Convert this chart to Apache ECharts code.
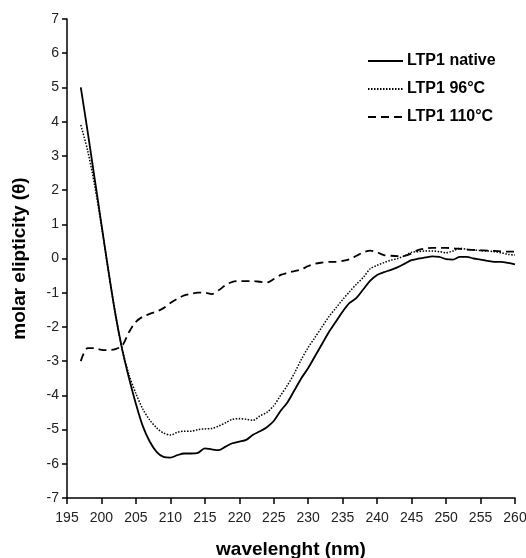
<!DOCTYPE html>
<html>
<head>
<meta charset="utf-8">
<script src="https://cdn.jsdelivr.net/npm/echarts@6/dist/echarts.min.js"></script>
<style>html,body{margin:0;padding:0;background:#fff}#c{width:526px;height:558px}</style>
</head>
<body>
<div id="c"></div>
<script>
var wavelengths = [197,198,199,200,201,202,203,204,205,206,207,208,209,210,211,212,213,214,215,216,217,218,219,220,221,222,223,224,225,226,227,228,229,230,231,232,233,234,235,236,237,238,239,240,241,242,243,244,245,246,247,248,249,250,251,252,253,254,255,256,257,258,259,260];
var native = [5.0,3.7,2.35,1.0,-0.35,-1.6,-2.65,-3.5,-4.25,-4.9,-5.35,-5.65,-5.8,-5.82,-5.75,-5.7,-5.7,-5.68,-5.55,-5.58,-5.6,-5.5,-5.4,-5.35,-5.3,-5.15,-5.05,-4.93,-4.75,-4.45,-4.2,-3.85,-3.5,-3.2,-2.85,-2.5,-2.15,-1.85,-1.55,-1.3,-1.15,-0.9,-0.65,-0.48,-0.4,-0.33,-0.25,-0.15,-0.05,0.0,0.03,0.06,0.05,-0.02,-0.03,0.05,0.05,0.0,-0.03,-0.07,-0.1,-0.1,-0.13,-0.17];
var heated96 = [3.9,3.15,2.15,0.95,-0.35,-1.6,-2.65,-3.4,-3.95,-4.4,-4.72,-4.95,-5.1,-5.16,-5.08,-5.05,-5.05,-5.0,-4.98,-4.97,-4.9,-4.8,-4.7,-4.68,-4.7,-4.73,-4.6,-4.5,-4.3,-4.0,-3.7,-3.35,-2.95,-2.6,-2.3,-2.0,-1.7,-1.45,-1.2,-0.97,-0.75,-0.55,-0.3,-0.2,-0.12,-0.05,0.0,0.08,0.18,0.2,0.22,0.22,0.2,0.17,0.22,0.3,0.27,0.25,0.23,0.22,0.2,0.17,0.12,0.1];
var heated110 = [-3.0,-2.62,-2.62,-2.67,-2.68,-2.65,-2.55,-2.15,-1.85,-1.7,-1.62,-1.55,-1.45,-1.3,-1.18,-1.08,-1.03,-1.0,-1.0,-1.04,-0.93,-0.78,-0.68,-0.66,-0.66,-0.66,-0.68,-0.7,-0.6,-0.48,-0.42,-0.37,-0.32,-0.22,-0.15,-0.12,-0.1,-0.1,-0.07,-0.02,0.08,0.18,0.23,0.18,0.1,0.08,0.07,0.08,0.15,0.25,0.29,0.31,0.31,0.31,0.3,0.28,0.26,0.25,0.24,0.23,0.22,0.21,0.2,0.2];
var seriesNames = ['LTP1 native','LTP1 96°C','LTP1 110°C'];

function pairs(v){ return wavelengths.map(function(w,i){ return [w, v[i]]; }); }

var chart = echarts.init(document.getElementById('c'), null, {renderer:'canvas'});
var FF = 'Liberation Sans, Arial, sans-serif';
var axisFont = {fontFamily:FF, fontSize:14, color:'#222'};
chart.setOption({
  animation:false,
  backgroundColor:'#fff',
  grid:{left:67, right:11, top:19, bottom:60, containLabel:false, outerBoundsMode:'none'},
  legend:{
    orient:'vertical', left:362, top:48, itemWidth:35, itemHeight:10, itemGap:12,
    itemStyle:{opacity:0},
    textStyle:{fontFamily:FF, fontSize:16, fontWeight:'bold', color:'#000', padding:[0,0,0,-1]},
    data:seriesNames
  },
  xAxis:{
    type:'value', min:195, max:260, interval:5,
    name:'wavelenght (nm)', nameLocation:'middle', nameGap:42,
    nameTextStyle:{fontFamily:FF, fontSize:19, fontWeight:'bold', color:'#000'},
    axisLine:{onZero:false, lineStyle:{color:'#000', width:1.5}},
    axisTick:{length:6, lineStyle:{color:'#000', width:1.5}},
    axisLabel:Object.assign({margin:13}, axisFont),
    splitLine:{show:false}
  },
  yAxis:{
    type:'value', min:-7, max:7, interval:1,
    name:'molar elipticity (θ)', nameLocation:'middle', nameGap:38,
    nameTextStyle:{fontFamily:FF, fontSize:19, fontWeight:'bold', color:'#000'},
    axisLine:{show:true, lineStyle:{color:'#000', width:1.5}},
    axisTick:{show:true, length:5, lineStyle:{color:'#000', width:1.5}},
    axisLabel:Object.assign({margin:8}, axisFont),
    splitLine:{show:false}
  },
  series:[
    {name:seriesNames[0], type:'line', data:pairs(native), symbol:'none', smooth:0.3,
     lineStyle:{color:'#000', width:1.8, type:'solid'}, itemStyle:{color:'#000'}},
    {name:seriesNames[1], type:'line', data:pairs(heated96), symbol:'none', smooth:0.3,
     lineStyle:{color:'#000', width:1.5, type:[1.5,1.5]}, itemStyle:{color:'#000'}},
    {name:seriesNames[2], type:'line', data:pairs(heated110), symbol:'none', smooth:0.3,
     lineStyle:{color:'#000', width:1.8, type:[8,5]}, itemStyle:{color:'#000'}}
  ]
});
</script>
</body>
</html>
